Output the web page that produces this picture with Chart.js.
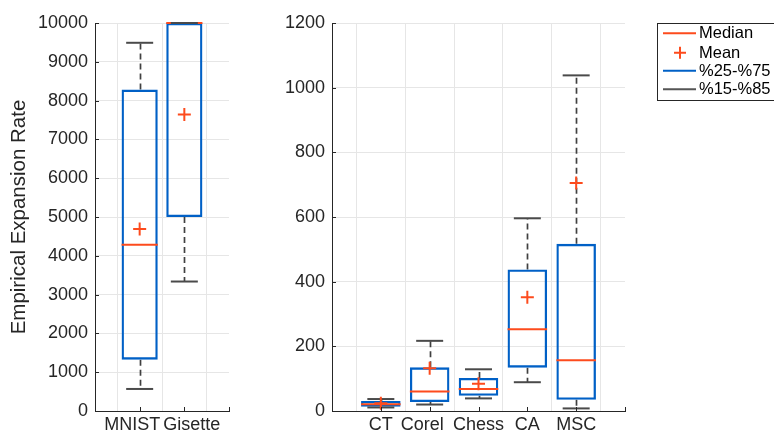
<!DOCTYPE html>
<html><head><meta charset="utf-8">
<script src="https://cdn.jsdelivr.net/npm/chart.js@4.4.0/dist/chart.umd.min.js"></script>
<style>
html,body{margin:0;padding:0;background:#fff;}
#wrap{position:relative;width:774px;height:432px;overflow:hidden;background:#fff;}
#lbox{position:absolute;left:0;top:0;width:250px;height:432px;}
#rbox{position:absolute;left:250px;top:0;width:524px;height:432px;}
</style></head><body>
<div id="wrap"><div id="lbox"><canvas id="left"></canvas></div><div id="rbox"><canvas id="right"></canvas></div></div>
<script>
// ---- data ----
const leftCats   = ['MNIST', 'Gisette'];
const leftP15    = [568, 3337];
const leftQ25    = [1324, 5000];
const leftMedian = [4284, 10000];
const leftMean   = [4689, 7640];
const leftQ75    = [8284, 10000];
const leftP85    = [9490, 10000];

const rightCats   = ['CT', 'Corel', 'Chess', 'CA', 'MSC'];
const rightP15    = [11, 20, 39, 89, 8];
const rightQ25    = [13, 28, 47, 134, 35];
const rightMedian = [21, 60, 68, 253, 157];
const rightMean   = [24, 132, 84, 352, 705];
const rightQ75    = [31, 135, 102, 438, 517];
const rightP85    = [37, 217, 129, 596, 1038];

const legendLabels = ['Median', 'Mean', '%25-%75', '%15-%85'];
const yTitle = 'Empirical Expansion Rate';

// ---- style ----
const BLUE = '#0060c6', RED = '#fd4b1d', GRAY = '#404040', AXIS = '#262626', GRID = '#e6e6e6';
const BARPCT = 0.81;
const TICKFONT = 18;
Chart.defaults.font.family = "'Liberation Sans', Helvetica, Arial, sans-serif";
Chart.defaults.color = AXIS;

const pad = arr => [null, ...arr, null];

const whiskerPlugin = {
  id: 'whiskers',
  beforeDatasetsDraw(chart, args, o) {
    const {ctx, scales: {x, y}} = chart;
    ctx.save();
    ctx.strokeStyle = GRAY; ctx.lineWidth = 1.7; ctx.setLineDash([6, 4]);
    o.lo.forEach((v, i) => {
      const px = Math.round(x.getPixelForValue(i + 1)) + 0.5;
      ctx.beginPath();
      ctx.moveTo(px, y.getPixelForValue(o.q75[i])); ctx.lineTo(px, y.getPixelForValue(o.hi[i]));
      ctx.moveTo(px, y.getPixelForValue(o.q25[i])); ctx.lineTo(px, y.getPixelForValue(o.lo[i]));
      ctx.stroke();
    });
    ctx.restore();
  }
};

const inTicksPlugin = {
  id: 'inticks',
  afterDraw(chart) {
    const {ctx, scales: {x, y}, chartArea: a} = chart;
    ctx.save(); ctx.strokeStyle = AXIS; ctx.lineWidth = 1;
    ctx.beginPath();
    y.ticks.forEach((t, i) => { const py = Math.round(y.getPixelForTick(i)) + 0.5; ctx.moveTo(a.left, py); ctx.lineTo(a.left + 4, py); });
    x.ticks.forEach((t, i) => { const px = Math.round(x.getPixelForTick(i)) + 0.5; ctx.moveTo(px, a.bottom); ctx.lineTo(px, a.bottom - 4); });
    ctx.stroke();
    ctx.restore();
  }
};

const legendPlugin = {
  id: 'boxlegend',
  afterDraw(chart) {
    const ctx = chart.ctx;
    const L = 407.5, T = 23.5, H = 77;
    ctx.save();
    ctx.strokeStyle = AXIS; ctx.lineWidth = 1;
    ctx.strokeRect(L, T, 140, H);
    const ys = [33.3, 52.7, 70.7, 89.3];
    const cols = [RED, RED, BLUE, '#555555'];
    ctx.font = "16.5px 'Liberation Sans', Helvetica, Arial, sans-serif";
    ctx.textBaseline = 'middle'; ctx.textAlign = 'left';
    legendLabels.forEach((lab, i) => {
      ctx.strokeStyle = cols[i]; ctx.lineWidth = 2;
      ctx.beginPath();
      if (i === 1) {
        ctx.moveTo(430, ys[i] - 6); ctx.lineTo(430, ys[i] + 6);
        ctx.moveTo(424, ys[i]); ctx.lineTo(436, ys[i]);
      } else {
        ctx.moveTo(413, ys[i]); ctx.lineTo(446, ys[i]);
      }
      ctx.stroke();
      ctx.fillStyle = '#000000';
      ctx.fillText(lab, 449, ys[i] + 0.5);
    });
    ctx.restore();
  }
};

function medianRadius(c) {
  const s = c.chart.scales.x;
  if (!s || !s.ticks || s.ticks.length < 2) return 19;
  return (s.width / (s.ticks.length - 1)) * BARPCT / 2;
}

function makeDatasets(q25, q75, med, mean, lo, hi) {
  return [
    {type: 'line', data: pad(mean), showLine: false, pointStyle: 'cross', pointRadius: 6.5,
     pointBorderWidth: 2, borderColor: RED, backgroundColor: RED, order: 0, clip: false},
    {type: 'line', data: pad(hi), showLine: false, pointStyle: 'line', pointRadius: 13.5,
     pointBorderWidth: 2, borderColor: '#4a4a4a', order: 1, clip: false},
    {type: 'line', data: pad(lo), showLine: false, pointStyle: 'line', pointRadius: 13.5,
     pointBorderWidth: 2, borderColor: '#4a4a4a', order: 1, clip: false},
    {type: 'line', data: pad(med), showLine: false, pointStyle: 'line', pointRadius: medianRadius,
     pointBorderWidth: 2, borderColor: RED, order: 2, clip: false},
    {type: 'bar', data: pad(q25.map((v, i) => [v, q75[i]])), backgroundColor: 'rgba(0,0,0,0)',
     borderColor: BLUE, borderWidth: 2.3, borderSkipped: false, barPercentage: BARPCT,
     categoryPercentage: 1, order: 3, clip: false}
  ];
}

// label nudges (spaces) to mimic the reference's label placement
function makeOptions(maxY, step, yWidth, rightPad, withTitle, whisk, nudge) {
  return {
    responsive: true, maintainAspectRatio: false, animation: false,
    events: [],
    layout: {padding: {top: 23, right: rightPad, left: 0, bottom: 0}},
    plugins: {legend: {display: false}, tooltip: {enabled: false}, whiskers: whisk},
    scales: {
      x: {type: 'category', offset: false,
          grid: {color: GRID, drawTicks: false}, border: {color: AXIS, width: 1},
          ticks: {padding: 3, autoSkip: false, maxRotation: 0, color: AXIS, font: {size: TICKFONT},
                  callback(v, i) {
                    const l = this.getLabelForValue(v) || '';
                    const n = nudge[i] || 0;
                    return n > 0 ? l + ' '.repeat(n) : n < 0 ? ' '.repeat(-n) + l : l;
                  }},
          afterFit(s) { s.height = 21; }},
      y: {min: 0, max: maxY,
          grid: {color: GRID, drawTicks: false}, border: {color: AXIS, width: 1},
          ticks: {stepSize: step, padding: 7, color: AXIS, font: {size: TICKFONT},
                  callback: v => String(v)},
          title: {display: withTitle, text: yTitle, color: AXIS, font: {size: 20.5}, padding: {top: 7, bottom: 0}},
          afterFit(s) { s.width = yWidth; }}
    }
  };
}

new Chart(document.getElementById('left'), {
  type: 'bar',
  data: {labels: pad(leftCats).map(v => v || ''),
         datasets: makeDatasets(leftQ25, leftQ75, leftMedian, leftMean, leftP15, leftP85)},
  options: makeOptions(10000, 1000, 95, 14, true, {lo: leftP15, q25: leftQ25, q75: leftQ75, hi: leftP85}, [0, 3, -3, 0]),
  plugins: [whiskerPlugin, inTicksPlugin]
});

new Chart(document.getElementById('right'), {
  type: 'bar',
  data: {labels: pad(rightCats).map(v => v || ''),
         datasets: makeDatasets(rightQ25, rightQ75, rightMedian, rightMean, rightP15, rightP85)},
  options: makeOptions(1200, 200, 82, 149, false, {lo: rightP15, q25: rightQ25, q75: rightQ75, hi: rightP85}, [0, 0, 3, 0, 0, 0, 0]),
  plugins: [whiskerPlugin, inTicksPlugin, legendPlugin]
});
</script>
</body></html>
